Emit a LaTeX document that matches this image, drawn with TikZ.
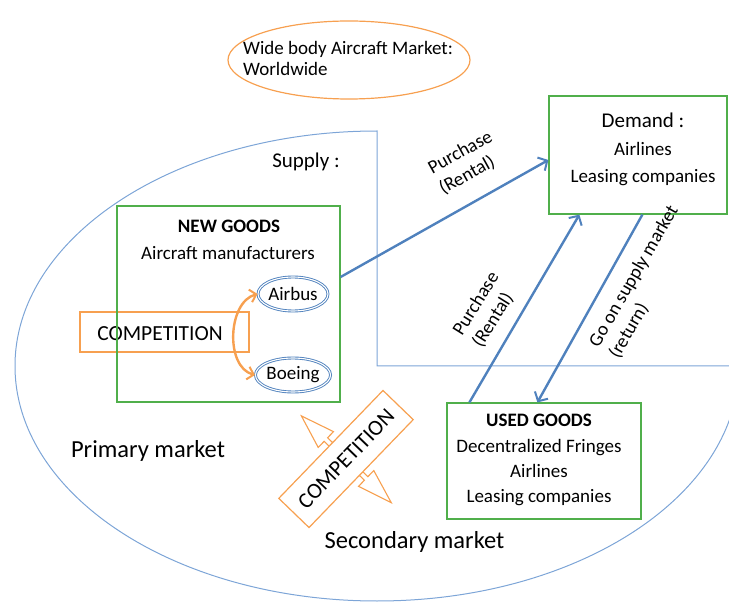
\documentclass[tikz,border=0pt]{standalone}
\usepackage{fontspec}
\setmainfont{Carlito}
\usetikzlibrary{arrows.meta,shapes.geometric,calc}
\definecolor{ablue}{RGB}{79,129,189}
\definecolor{lblue}{RGB}{125,165,215}
\definecolor{agreen}{RGB}{80,175,75}
\definecolor{aorange}{RGB}{247,160,80}
\tikzset{
 txt/.style={inner sep=0pt, font=\fontsize{19}{23}\selectfont},
 bigtxt/.style={inner sep=0pt, font=\fontsize{21}{25}\selectfont},
 hugetxt/.style={inner sep=0pt, font=\fontsize{24.5}{29}\selectfont},
 boldtxt/.style={inner sep=0pt, font=\fontsize{19}{23}\selectfont\bfseries},
 gbox/.style={draw=agreen, line width=1.2pt, inner sep=0pt},
 obox/.style={draw=aorange, line width=1.2pt, inner sep=0pt},
 firm/.style={draw=ablue, double=white, double distance=1.1pt, line width=0.9pt, ellipse, inner sep=0pt, font=\fontsize{19}{23}\selectfont},
 flow/.style={draw=ablue, line width=2.4pt, -{Straight Barb[length=7pt,width=15pt,line width=2pt]}},
 compet/.style={draw=aorange, line width=2.4pt, {Straight Barb[length=6pt,width=13pt,line width=2pt]}-{Straight Barb[length=6pt,width=13pt,line width=2pt]}},
 lbl/.style={inner sep=0pt, align=left, font=\fontsize{19}{23}\selectfont},
 blockarrow/.style={draw=aorange, line width=1.1pt, fill=white, line join=miter},
}
\begin{document}
\begin{tikzpicture}[x=1pt,y=-1pt]
\useasboundingbox (0,0) rectangle (729,604);
% market outline
\draw[lblue, line width=1pt] (377,131) arc[start angle=270, end angle=0, x radius=362, y radius=235] -- (377,366) -- cycle;
% title
\node[ellipse, draw=aorange, line width=1.2pt, minimum width=242pt, minimum height=78pt] (title) at (349,60) {};
\node[txt, anchor=base west] (title1) at (243,55) {Wide body Aircraft Market:};
\node[txt, anchor=base west] (title2) at (243,76) {Worldwide};
% supply
\node[bigtxt, anchor=base] (supply) at (306,168) {Supply :};
% competition box (primary)
\node[obox, minimum width=169pt, minimum height=40pt] (comp1) at (164.5,332) {};
\node[bigtxt, font=\fontsize{21.5}{25}\selectfont, anchor=base] (comp1t) at (160,341) {COMPETITION};
% new goods
\node[gbox, minimum width=223pt, minimum height=196pt] (new) at (228.5,304) {};
\node[boldtxt, anchor=base] (new1) at (229,233) {NEW GOODS};
\node[txt, anchor=base] (new2) at (228,260) {Aircraft manufacturers};
\node[firm, minimum width=70pt, minimum height=34pt] (airbus) at (293,294) {Airbus};
\node[firm, minimum width=70pt, minimum height=34pt] (boeing) at (293,375) {Boeing};
\draw[compet] (airbus.west) .. controls +(-30,8) and +(-30,-8) .. (boeing.west);
% demand
\node[gbox, minimum width=178pt, minimum height=118pt] (demand) at (638,155) {};
\node[bigtxt, anchor=base] (dem1) at (643,128) {Demand :};
\node[txt, anchor=base] (dem2) at (643,156) {Airlines};
\node[txt, anchor=base] (dem3) at (643,183) {Leasing companies};
% used goods
\node[gbox, minimum width=194pt, minimum height=116pt] (used) at (544,461) {};
\node[boldtxt, anchor=base] (used1) at (539,426) {USED GOODS};
\node[txt, anchor=base] (used2) at (539,452) {Decentralized Fringes};
\node[txt, anchor=base] (used3) at (539,477) {Airlines};
\node[txt, anchor=base] (used4) at (539,502) {Leasing companies};
% market names
\node[hugetxt, anchor=base] (primary) at (148,457) {Primary market};
\node[hugetxt, anchor=base] (secondary) at (414.5,548) {Secondary market};
% flows
\draw[flow] ($(new.east)+(0,-27)$) -- ($(demand.west)+(0,5)$);
\draw[flow] ($(used.north west)+(23,0)$) -- ($(demand.south west)+(31,0)$);
\draw[flow] ($(demand.south west)+(94,0)$) -- ($(used.north west)+(91,0)$);
\node[lbl, rotate=29] (lab1) at (466,163) {Purchase\\(Rental)};
\node[lbl, rotate=58] (lab2) at (486,310) {Purchase\\(Rental)};
\node[lbl, rotate=60] (lab3) at (644,282) {Go on supply market\\(return)};
% rotated competition
\begin{scope}[shift={(346,459)}, rotate=46]
 \draw[blockarrow] (-2.5,21) -- (-2.5,28) -- (-11,28) -- (0,63) -- (11,28) -- (2.5,28) -- (2.5,21);
 \draw[blockarrow] (-2.5,-21) -- (-2.5,-28) -- (-11,-28) -- (0,-62) -- (11,-28) -- (2.5,-28) -- (2.5,-21);
\end{scope}
\node[obox, fill=white, minimum width=150pt, minimum height=42pt, rotate=46, font=\fontsize{22}{26}\selectfont] (comp2) at (346,459) {COMPETITION};
\end{tikzpicture}
\end{document}
